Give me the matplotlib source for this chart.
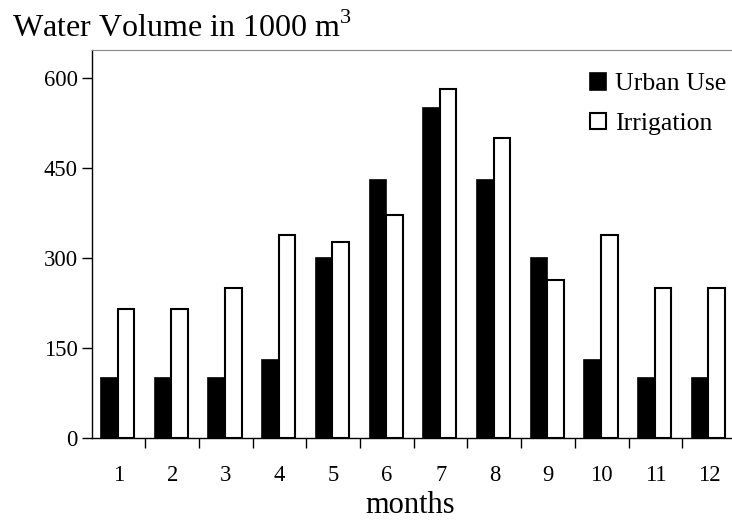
import matplotlib.pyplot as plt
import numpy as np

plt.rcParams['font.family'] = ['Liberation Serif', 'DejaVu Serif']
plt.rcParams['mathtext.fontset'] = 'custom'
plt.rcParams['mathtext.rm'] = 'Liberation Serif'

months = ['1', '2', '3', '4', '5', '6', '7', '8', '9', '10', '11', '12']
urban_use = [100, 100, 100, 130, 300, 430, 550, 430, 300, 130, 100, 100]
irrigation = [216, 216, 250, 338, 327, 372, 582, 500, 264, 338, 250, 250]

fig = plt.figure(figsize=(7.32, 5.21), dpi=100)
ax = fig.add_axes([0.1253, 0.1587, 0.88, 0.7453])

x = np.arange(len(months))
w = 0.31
ax.bar(x - 0.17, urban_use, w, color='black', edgecolor='black', linewidth=1.2,
       label='Urban Use')
ax.bar(x + 0.14, irrigation, w, color='white', edgecolor='black', linewidth=1.5,
       label='Irrigation')

ax.set_xlim(-0.5, 11.5)
ax.set_ylim(0, 647)
ax.set_yticks([0, 150, 300, 450, 600])
ax.set_xticks(x + 0.5)
ax.set_xticklabels([])
ax.set_xticks(x, minor=True)
ax.set_xticklabels(months, minor=True)
ax.tick_params(axis='x', which='major', direction='out', length=7, width=1)
ax.tick_params(axis='x', which='minor', length=0, pad=19, labelsize=16.3)
ax.tick_params(axis='y', direction='out', length=7, width=1, labelsize=16.3, pad=3)

ax.spines['right'].set_visible(False)
ax.spines['top'].set_color('#888888')
ax.spines['left'].set_linewidth(1)
ax.spines['bottom'].set_linewidth(1)

fig.text(0.561, 0.016, 'months', fontsize=22, ha='center', va='baseline')
fig.text(0.017, 0.929, r'Water Volume in 1000 m$^\mathrm{3}$', fontsize=23,
         ha='left', va='baseline')

fig.legend(loc='upper left', bbox_to_anchor=(0.806, 0.86), frameon=False,
           fontsize=18.5, handlelength=0.62, handleheight=0.62, handletextpad=0.35,
           labelspacing=0.67, borderpad=0, borderaxespad=0)

fig.savefig('out.png', dpi=100)
